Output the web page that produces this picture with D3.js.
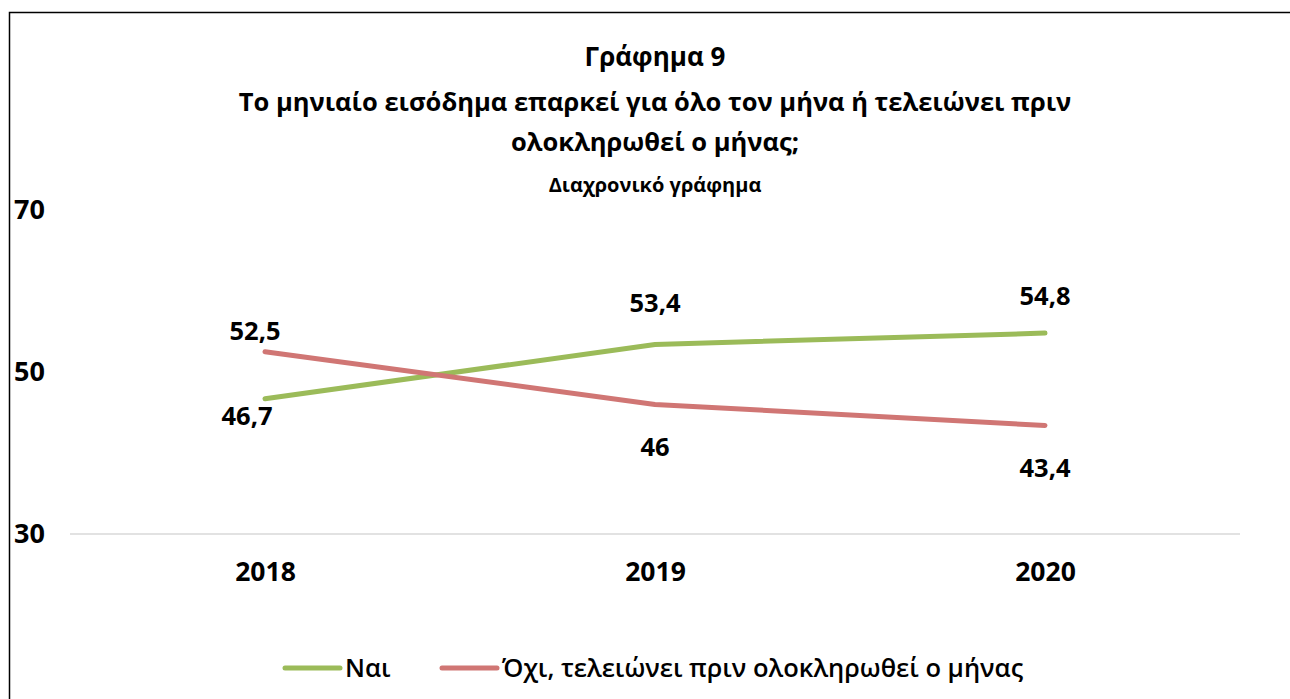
<!DOCTYPE html>
<html>
<head>
  <meta charset="utf-8">
  <title>Γράφημα 9</title>
  <style>
    body { margin: 0; background: #fff; }
    text { font-family: "Open Sans", "Noto Sans", sans-serif; fill: #000; }
  </style>
  <script src="https://d3js.org/d3.v7.min.js"></script>
</head>
<body>
<svg width="1290" height="699"></svg>
<script>
var years = ["2018", "2019", "2020"];
var naiValues = [46.7, 53.4, 54.8];
var oxiValues = [52.5, 46, 43.4];
var seriesNames = ["Ναι", "Όχι, τελειώνει πριν ολοκληρωθεί ο μήνας"];
var yTicks = [30, 50, 70];
var titleLines = ["Γράφημα 9", "Το μηνιαίο εισόδημα επαρκεί για όλο τον μήνα ή τελειώνει πριν", "ολοκληρωθεί ο μήνας;"];
var subtitle = "Διαχρονικό γράφημα";

var colors = ["#9bbb59", "#d07674"];
// label placement (offsets from point), Excel style
var naiLabelOff = [[-18, 17], [0, -41], [0, -37]];
var oxiLabelOff = [[-10, -21], [0, 43], [0, 43]];

var svg = d3.select("svg");

// outer frame
svg.append("path")
   .attr("d", "M9.5,700 V12.5 H1290")
   .attr("fill", "none")
   .attr("stroke", "#000")
   .attr("stroke-width", 1.5);

var x = d3.scalePoint().domain(years).range([70, 1240]).padding(0.5);
var y = d3.scaleLinear().domain([30, 70]).range([534, 210]);

// titles
svg.selectAll(".title")
   .data(titleLines)
   .enter().append("text")
   .attr("x", 655)
   .attr("y", function(d, i) { return [66, 111, 151][i]; })
   .attr("text-anchor", "middle")
   .attr("font-size", function(d, i) { return i == 0 ? "26px" : "25.5px"; })
   .attr("font-weight", 700)
   .text(function(d) { return d; });

svg.append("text")
   .attr("x", 655)
   .attr("y", 192)
   .attr("text-anchor", "middle")
   .attr("font-size", "20px")
   .attr("font-weight", 700)
   .text(subtitle);

// baseline
svg.append("line")
   .attr("x1", 70).attr("x2", 1240)
   .attr("y1", y(30)).attr("y2", y(30))
   .attr("stroke", "#d9d9d9")
   .attr("stroke-width", 1.5);

// y labels (axis without line)
var yAxis = svg.append("g")
   .attr("transform", "translate(14,0)")
   .call(d3.axisLeft(y).tickValues(yTicks).tickSize(0).tickPadding(0));
yAxis.select(".domain").remove();
yAxis.selectAll("text")
   .attr("text-anchor", "start")
   .attr("font-size", "27px")
   .attr("font-weight", 700)
   .attr("font-family", null);

// x labels
var xAxis = svg.append("g")
   .attr("transform", "translate(0," + y(30) + ")")
   .call(d3.axisBottom(x).tickSize(0).tickPadding(28));
xAxis.select(".domain").remove();
xAxis.selectAll("text")
   .attr("font-size", "26.5px")
   .attr("font-weight", 700)
   .attr("font-family", null);

var line = d3.line()
   .x(function(d, i) { return x(years[i]); })
   .y(function(d) { return y(d); });

[naiValues, oxiValues].forEach(function(vals, s) {
  svg.append("path")
     .attr("d", line(vals))
     .attr("fill", "none")
     .attr("stroke", colors[s])
     .attr("stroke-width", 5)
     .attr("stroke-linecap", "round")
     .attr("stroke-linejoin", "round");
});

[[naiValues, naiLabelOff], [oxiValues, oxiLabelOff]].forEach(function(p) {
  svg.selectAll(null)
     .data(p[0])
     .enter().append("text")
     .attr("x", function(d, i) { return x(years[i]) + p[1][i][0]; })
     .attr("y", function(d, i) { return y(d) + p[1][i][1]; })
     .attr("dy", "0.35em")
     .attr("text-anchor", "middle")
     .attr("font-size", "25.5px")
     .attr("font-weight", 700)
     .text(function(d) { return String(d).replace(".", ","); });
});

// legend
var legendX = [285, 442];
seriesNames.forEach(function(name, i) {
  svg.append("line")
     .attr("x1", legendX[i]).attr("x2", legendX[i] + 55)
     .attr("y1", 668).attr("y2", 668)
     .attr("stroke", colors[i])
     .attr("stroke-width", 5)
     .attr("stroke-linecap", "round");
  svg.append("text")
     .attr("x", legendX[i] + 60)
     .attr("y", 668)
     .attr("dy", "0.35em")
     .attr("font-size", "25.5px")
     .attr("font-weight", 600)
     .text(name);
});
</script>
</body>
</html>
